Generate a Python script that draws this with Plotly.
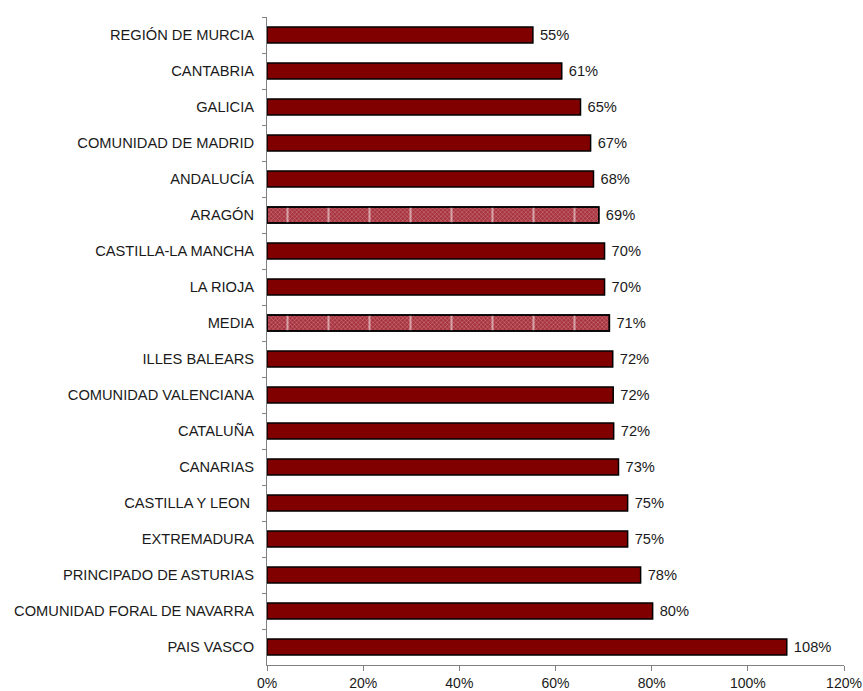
import plotly.graph_objects as go

regions = [
    "REGIÓN DE MURCIA", "CANTABRIA", "GALICIA", "COMUNIDAD DE MADRID", "ANDALUCÍA",
    "ARAGÓN", "CASTILLA-LA MANCHA", "LA RIOJA", "MEDIA", "ILLES BALEARS",
    "COMUNIDAD VALENCIANA", "CATALUÑA", "CANARIAS", "CASTILLA Y LEON ",
    "EXTREMADURA", "PRINCIPADO DE ASTURIAS", "COMUNIDAD FORAL DE NAVARRA", "PAIS VASCO",
]
values = [0.553, 0.613, 0.652, 0.673, 0.679, 0.690, 0.702, 0.702, 0.712, 0.719,
          0.720, 0.721, 0.731, 0.750, 0.750, 0.777, 0.802, 1.081]
hatched = {"ARAGÓN", "MEDIA"}

solid_color = "#800000"
hatch_bg = "#a8323e"
hatch_fg = "#d6868a"
FONT = "Liberation Sans, Arial"
FS = 14.67

colors = [hatch_bg if r in hatched else solid_color for r in regions]
shapes = ["x" if r in hatched else "" for r in regions]

fig = go.Figure()
fig.add_trace(go.Bar(
    y=regions, x=values, orientation="h",
    marker=dict(
        color=colors,
        line=dict(color="#000000", width=1.5),
        pattern=dict(shape=shapes, fgcolor=hatch_fg, bgcolor=hatch_bg, size=3, solidity=0.25),
    ),
    width=0.45,
    text=[f" {round(v*100):d}%" for v in values],
    textposition="outside",
    textfont=dict(family=FONT, size=FS, color="#1a1a1a"),
    cliponaxis=False,
))

# white vertical stripes on the hatched bars
h_regions = [r for r in regions if r in hatched]
h_values = [v for r, v in zip(regions, values) if r in hatched]
fig.add_trace(go.Bar(
    y=h_regions, x=h_values, orientation="h",
    marker=dict(
        color="rgba(0,0,0,0)",
        line=dict(color="#000000", width=1.5),
        pattern=dict(shape="|", fgcolor="#ffffff", bgcolor="rgba(0,0,0,0)",
                     size=41, solidity=0.05, fillmode="overlay"),
    ),
    width=0.45,
    hoverinfo="skip",
))

fig.update_layout(
    width=863, height=691,
    margin=dict(l=267, r=19, t=17, b=26),
    paper_bgcolor="white", plot_bgcolor="white",
    showlegend=False,
    barmode="overlay",
    font=dict(family=FONT, size=FS, color="#1a1a1a"),
    xaxis=dict(
        range=[0, 1.2], tickvals=[0, 0.2, 0.4, 0.6, 0.8, 1.0, 1.2],
        tickformat=".0%", showgrid=False, zeroline=False,
        showline=True, linecolor="#808080", linewidth=1,
        ticks="outside", ticklen=5, tickcolor="#808080",
        tickfont=dict(size=14), automargin=False, ticklabelstandoff=0,
    ),
    yaxis=dict(
        autorange="reversed", showgrid=False, zeroline=False,
        showline=True, linecolor="#808080", linewidth=1,
        ticks="outside", ticklen=4, tickcolor="#808080",
        tickson="boundaries", ticklabelstandoff=9,
        tickfont=dict(size=FS), automargin=False,
    ),
)

fig.write_html("out.html")
